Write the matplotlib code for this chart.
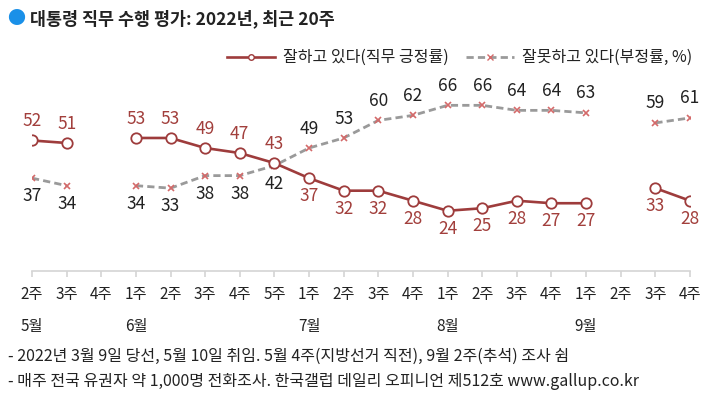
import numpy as np
import matplotlib.pyplot as plt
from matplotlib.lines import Line2D

plt.rcParams['font.family'] = ['Noto Sans CJK KR', 'DejaVu Sans']

# weekly labels and month labels
weeks = ["2주", "3주", "4주", "1주", "2주", "3주", "4주", "5주", "1주", "2주",
         "3주", "4주", "1주", "2주", "3주", "4주", "1주", "2주", "3주", "4주"]
months = ["5월", "6월", "7월", "8월", "9월"]
month_pos = [0, 3, 8, 12, 16]

nan = np.nan
approve = [52, 51, nan, 53, 53, 49, 47, 43, 37, 32, 32, 28, 24, 25, 28, 27, 27, nan, 33, 28]
disapprove = [37, 34, nan, 34, 33, 38, 38, 42, 49, 53, 60, 62, 66, 66, 64, 64, 63, nan, 59, 61]

red = "#9e3c3c"
lab_red = "#a23f3c"
gray = "#9a9a9a"
xred = "#d46a6a"

fig = plt.figure(figsize=(7.2, 4.08), dpi=100)
ax = fig.add_axes([32 / 720, 137 / 408, 658 / 720, 251 / 408])

x = np.arange(len(weeks))
ax.plot(x, disapprove, color=gray, lw=2.0, ls=(0, (2.6, 1.5)),
        marker="x", ms=5, mec=xred, mew=1.2, zorder=2)
ax.plot(x, approve, color=red, lw=1.9, marker="o", ms=7.5,
        mfc="white", mec=red, mew=1.3, zorder=3)

# data labels: approval above until the crossover, then below
for i in range(len(weeks)):
    a, d = approve[i], disapprove[i]
    if np.isnan(a):
        continue
    up_a = i <= 7
    ax.annotate(f"{a:.0f}", (i, a), xytext=(0, 14 if up_a else -13),
                textcoords="offset points", ha="center", va="center",
                fontsize=12.5, color=lab_red, annotation_clip=False)
    ax.annotate(f"{d:.0f}", (i, d), xytext=(0, -13 if up_a else 14),
                textcoords="offset points", ha="center", va="center",
                fontsize=12.5, color="#222222", annotation_clip=False)

ax.set_xlim(0, len(weeks) - 1)
ax.set_ylim(0, 100)
ax.set_xticks(x)
ax.set_xticklabels(weeks, fontsize=11, color="#222222")
ax.set_yticks([])
for s in ["top", "right", "left"]:
    ax.spines[s].set_visible(False)
ax.spines["bottom"].set_color("#d4d4d4")
ax.spines["bottom"].set_linewidth(1.2)
ax.tick_params(axis="x", length=4, color="#d4d4d4", width=1.2, pad=7)
ax.patch.set_visible(False)

for m, p in zip(months, month_pos):
    ax.text(p, -0.22, m, transform=ax.get_xaxis_transform(), ha="center", va="center",
            fontsize=11, color="#222222")

# title
fig.text(7 / 720, 1 - 19 / 408, "●", color="#1a90e8", fontsize=13, va="center")
fig.text(30 / 720, 1 - 19 / 408, "대통령 직무 수행 평가: 2022년, 최근 20주",
         fontsize=12.5, fontweight="bold", color="#222222", va="center")

# legend
handles = [
    Line2D([], [], color=red, lw=1.9, marker="o", ms=4, mfc="white", mec=red),
    Line2D([], [], color=gray, lw=2.0, ls=(0, (2.6, 1.5)), marker="x", ms=4, mec=xred),
]
ax.legend(handles, ["잘하고 있다(직무 긍정률)", "잘못하고 있다(부정률, %)"],
          loc="center right", bbox_to_anchor=(1.025, 0.85), ncol=2, frameon=False,
          fontsize=11.5, handlelength=3.0, columnspacing=1.1, handletextpad=0.5,
          labelcolor="#222222")

fig.text(8 / 720, 1 - 356 / 408,
         "- 2022년 3월 9일 당선, 5월 10일 취임. 5월 4주(지방선거 직전), 9월 2주(추석) 조사 쉼",
         fontsize=11.5, color="#222222", va="center")
fig.text(8 / 720, 1 - 381 / 408,
         "- 매주 전국 유권자 약 1,000명 전화조사. 한국갤럽 데일리 오피니언 제512호 www.gallup.co.kr",
         fontsize=11.5, color="#222222", va="center")

fig.savefig("out.png", dpi=100)
